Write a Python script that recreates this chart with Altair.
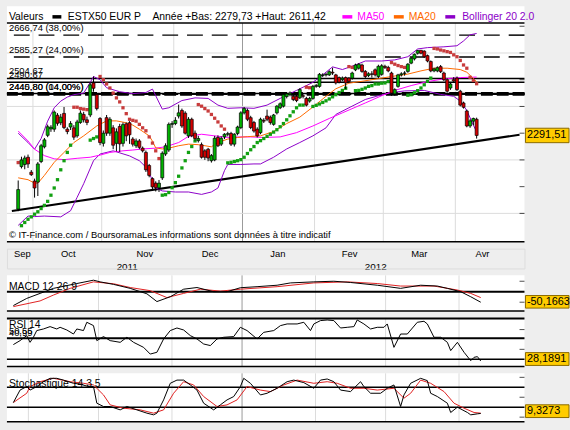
import altair as alt
import pandas as pd

FONT = "Liberation Sans"

# ---------------- candles (x = trading-session index, 0 = first session of Oct 2011) -------------
first_day = -5
first_2012 = 64
opens = [2016, 2175, 2183, 2210, 2154,
         2121, 2117, 2194, 2249, 2292, 2316, 2315, 2367, 2339, 2374,
         2315, 2323, 2320, 2290, 2340, 2370, 2350, 2368, 2488, 2444,
         2355, 2262, 2358, 2300, 2320, 2262, 2325, 2262, 2335, 2339,
         2278, 2253, 2271, 2244, 2228, 2179, 2130, 2113, 2096, 2133,
         2222, 2237, 2333, 2336, 2364, 2385, 2375, 2290, 2352, 2300,
         2272, 2257, 2234, 2240, 2197, 2200, 2284, 2259, 2286, 2296,
         2299, 2259, 2299, 2321, 2376, 2385, 2358, 2340, 2315, 2302,
         2348, 2364, 2360, 2333, 2376, 2395, 2401, 2437, 2444, 2438,
         2438, 2432, 2440, 2430, 2420, 2430, 2475, 2475, 2516, 2518,
         2518, 2528, 2518, 2508, 2500, 2508, 2506, 2506, 2537, 2543,
         2555, 2531, 2516, 2522, 2537, 2512, 2520, 2550, 2546, 2525,
         2447, 2475, 2518, 2524, 2531, 2562, 2578, 2599, 2610, 2607,
         2590, 2568, 2533, 2533, 2549, 2525, 2500, 2469, 2500, 2506,
         2457, 2413, 2383, 2327, 2345, 2352]
highs = [2123, 2212, 2216, 2220, 2162,
         2130, 2192, 2260, 2282, 2332, 2330, 2385, 2375, 2372, 2398,
         2322, 2345, 2330, 2350, 2385, 2380, 2362, 2490, 2512, 2450,
         2360, 2310, 2368, 2360, 2330, 2318, 2335, 2340, 2340, 2345,
         2285, 2280, 2278, 2250, 2235, 2185, 2135, 2120, 2125, 2232,
         2262, 2340, 2345, 2360, 2407, 2392, 2382, 2360, 2358, 2310,
         2290, 2265, 2240, 2245, 2222, 2290, 2292, 2288, 2300, 2305,
         2305, 2300, 2328, 2382, 2398, 2392, 2365, 2346, 2322, 2358,
         2356, 2388, 2366, 2372, 2405, 2415, 2448, 2452, 2456, 2446,
         2444, 2468, 2446, 2436, 2436, 2480, 2484, 2525, 2524, 2526,
         2535, 2545, 2522, 2512, 2512, 2512, 2510, 2530, 2560, 2562,
         2560, 2536, 2528, 2532, 2542, 2556, 2558, 2556, 2552, 2530,
         2468, 2522, 2528, 2532, 2562, 2584, 2598, 2611.42, 2611, 2610,
         2594, 2572, 2545, 2550, 2555, 2530, 2505, 2490, 2510, 2512,
         2462, 2418, 2388, 2352, 2358, 2358]
lows = [2008, 2168, 2165, 2170, 2140,
        2059, 2065, 2188, 2243, 2285, 2305, 2305, 2328, 2330, 2315,
        2296, 2312, 2275, 2283, 2335, 2340, 2330, 2360, 2455, 2385,
        2255, 2250, 2290, 2290, 2240, 2232, 2230, 2250, 2270, 2260,
        2250, 2245, 2240, 2228, 2155, 2135, 2085, 2082, 2080, 2125,
        2215, 2230, 2320, 2330, 2355, 2320, 2295, 2282, 2285, 2272,
        2265, 2205, 2200, 2195, 2190, 2195, 2248, 2252, 2278, 2288,
        2252, 2250, 2292, 2315, 2370, 2345, 2315, 2302, 2284, 2296,
        2338, 2345, 2332, 2328, 2370, 2390, 2396, 2430, 2438, 2420,
        2416, 2428, 2430, 2400, 2414, 2425, 2470, 2470, 2510, 2512,
        2514, 2518, 2482, 2486, 2494, 2465, 2488, 2500, 2532, 2538,
        2526, 2506, 2510, 2508, 2512, 2506, 2515, 2540, 2528, 2440,
        2440, 2470, 2512, 2515, 2526, 2558, 2572, 2594, 2595, 2582,
        2565, 2528, 2528, 2528, 2525, 2495, 2452, 2462, 2488, 2458,
        2400, 2392, 2322, 2320, 2330, 2279.73]
closes = [2089, 2200, 2207, 2185, 2145,
          2095, 2185, 2253, 2275, 2324, 2322, 2379, 2337, 2360, 2321,
          2306, 2336, 2285, 2342, 2375, 2350, 2340, 2481, 2468, 2392,
          2265, 2300, 2300, 2352, 2255, 2305, 2260, 2332, 2290, 2294,
          2259, 2271, 2247, 2234, 2163, 2142, 2099, 2096, 2113, 2225,
          2253, 2333, 2336, 2348, 2376, 2327, 2300, 2352, 2290, 2280,
          2280, 2210, 2210, 2207, 2216, 2281, 2253, 2281, 2296, 2298,
          2259, 2296, 2323, 2376, 2392, 2352, 2321, 2308, 2290, 2352,
          2345, 2352, 2340, 2368, 2401, 2410, 2444, 2447, 2450, 2426,
          2422, 2463, 2438, 2405, 2430, 2475, 2478, 2520, 2518, 2520,
          2530, 2525, 2488, 2491, 2506, 2488, 2494, 2525, 2555, 2558,
          2531, 2512, 2522, 2520, 2518, 2550, 2552, 2546, 2533, 2450,
          2463, 2518, 2522, 2525, 2558, 2580, 2595, 2609, 2599, 2586,
          2570, 2533, 2540, 2545, 2530, 2500, 2457, 2484, 2495, 2463,
          2405, 2397, 2327, 2346, 2355, 2291.51]

# ---------------- parabolic SAR dots ----------------
sar_up_i = (list(range(-4, 12)) + [17, 18, 19] + list(range(39, 50)) + list(range(59, 83))
            + list(range(85, 96)) + list(range(98, 109)) + list(range(114, 122)))
sar_up_v = [1954, 1966, 1978, 1987, 1997, 2006, 2018, 2030, 2045, 2068, 2095, 2126, 2163, 2197, 2228, 2255,
            2274, 2280, 2286,
            2068, 2070, 2078, 2096, 2115, 2139, 2170, 2197, 2228, 2250, 2271,
            2189, 2191, 2194, 2197, 2201, 2210, 2224, 2238, 2250, 2265, 2272, 2280, 2288, 2296, 2304, 2313,
            2324, 2336, 2350, 2365, 2380, 2395, 2405, 2405,
            2400, 2404, 2409, 2415, 2421, 2428, 2436, 2444, 2452, 2460, 2468,
            2459, 2460, 2464, 2469, 2475, 2478, 2484, 2484, 2487, 2488, 2493,
            2442, 2444, 2451, 2459, 2469, 2481, 2494, 2506]
sar_dn_i = ([-5] + list(range(12, 17)) + list(range(20, 39)) + list(range(50, 59)) + [83, 84, 96, 97]
            + list(range(109, 114)) + list(range(122, 136)))
sar_dn_v = [2190,
            2397, 2397, 2392, 2390, 2388,
            2512, 2500, 2484, 2469, 2450, 2432, 2417, 2395, 2373, 2352, 2348, 2345, 2333, 2320, 2309,
            2286, 2263, 2234, 2205,
            2407, 2401, 2392, 2383, 2370, 2356, 2342, 2327, 2315,
            2472, 2470, 2549, 2546,
            2564, 2558, 2553, 2549, 2546,
            2617, 2615, 2611, 2608, 2605, 2602, 2593, 2586, 2572, 2555, 2543, 2509, 2497, 2485]

# ---------------- moving averages & Bollinger (read at sample points) ----------------
ma20_i = [-5, -2, 0, 1, 3, 6, 9, 12, 15, 19, 22, 25, 28, 30, 32, 35, 36, 37, 39, 41,
          44, 47, 50, 54, 56, 59, 62, 65, 69, 73, 77, 81, 85, 89, 92, 96, 100, 105, 109, 114,
          118, 122, 126, 130, 132, 134, 135]
ma20_v = [2133, 2126, 2113, 2113, 2142, 2191, 2228, 2265, 2290, 2327, 2346, 2346, 2339, 2330, 2315, 2290, 2270, 2245, 2241, 2244,
          2253, 2259, 2257, 2249, 2265, 2278, 2284, 2287, 2290, 2306, 2336, 2360, 2398, 2438, 2466, 2487, 2494, 2504, 2512, 2521,
          2533, 2543, 2543, 2538, 2528, 2505, 2492]
ma50_i = [-5, -2, 0, 3, 6, 9, 13, 17, 20, 23, 27, 30, 33, 37, 40, 44, 47, 51, 55, 59,
          63, 66, 70, 75, 80, 85, 90, 94, 101, 106, 110, 115, 120, 125, 130, 135]
ma50_v = [2308, 2271, 2240, 2216, 2204, 2201, 2206, 2210, 2218, 2228, 2234, 2237, 2241, 2244, 2249, 2265, 2288, 2296, 2290, 2284,
          2286, 2286, 2284, 2286, 2302, 2327, 2355, 2376, 2413, 2440, 2460, 2478, 2493, 2503, 2508, 2510]
boll_up_i = [-5, -2, 0, 2, 4, 6, 8, 10, 12, 15, 17, 18, 20, 22, 26, 30, 34, 36, 37, 39,
             41, 45, 49, 53, 56, 59, 63, 67, 71, 75, 80, 85, 88, 91, 94, 98, 101, 106, 110, 114,
             117, 120, 125, 129, 131, 133, 135]
boll_up_v = [2300, 2265, 2240, 2280, 2345, 2395, 2420, 2435, 2444, 2450, 2490, 2512, 2500, 2470, 2455, 2448, 2452, 2465, 2440, 2390,
             2395, 2422, 2432, 2430, 2405, 2393, 2395, 2393, 2405, 2430, 2460, 2490, 2518, 2548, 2538, 2555, 2570, 2570, 2574, 2586,
             2615, 2620, 2623, 2627, 2645, 2668, 2673]
boll_lo_i = [-5, -2, 0, 3, 8, 11, 13, 15, 18, 20, 24, 29, 32, 34, 36, 37, 39, 43, 47, 51,
             54, 56, 58, 59, 63, 67, 69, 73, 77, 81, 85, 89, 92, 96, 101, 105, 109, 113, 119, 124,
             128, 130, 132, 134, 135]
boll_lo_v = [1955, 1990, 1988, 1990, 1987, 2010, 2060, 2111, 2197, 2222, 2234, 2215, 2197, 2173, 2125, 2095, 2084, 2080, 2080, 2071,
             2080, 2095, 2160, 2183, 2183, 2185, 2185, 2210, 2241, 2265, 2290, 2320, 2370, 2395, 2426, 2440, 2452, 2458, 2460, 2445,
             2438, 2420, 2385, 2330, 2305]

# ---------------- horizontal levels & trend line ----------------
level_values = [2666.74, 2585.27, 2504.67, 2490.67, 2445.80, 2448.50]
level_labels = ["2666,74 (38,00%)", "2585,27 (24,00%)", "2504,67", "2490,67",
                "2445,80 (04,00%)", "2440,80 (14,00%)"]
level_dashed = [True, True, False, False, True, False]
trend_i = [-6.93, 148.1]
trend_v = [2009, 2294]

# ---------------- indicators ----------------
macd_i = [-5, -1, 3, 7, 14, 19, 21, 25, 30, 35, 38, 42, 46, 50, 55, 59, 63, 68, 74, 78,
          85, 91, 96, 104, 111, 117, 122, 125, 129, 132, 135]
macd_v = [-66, -32, -8, 16, 39, 55, 47, 35, 16, -10, -47, -24, 12, 20, 0, 0, 19, 24, 31, 42,
          47, 50, 44, 31, 16, 31, 27, 16, 0, -24, -50.1663]
sig_i = [-5, 3, 7, 12, 19, 25, 30, 36, 41, 46, 51, 57, 63, 74, 85, 95, 104, 111, 121, 128, 132, 135]
sig_v = [-71, -44, -16, 16, 47, 38, 20, 5, -28, -8, 12, 3, 12, 24, 42, 47, 39, 27, 27, 8, -8, -28]

rsi_i = [-5, -3, -1, 0, 1, 2, 4, 6, 8, 9, 11, 13, 14, 16, 17, 19, 20, 22, 24, 27,
         29, 31, 34, 36, 38, 40, 42, 44, 46, 48, 50, 52, 54, 56, 58, 61, 63, 65, 68, 70,
         73, 75, 77, 80, 82, 84, 85, 87, 89, 91, 93, 95, 97, 98, 100, 102, 104, 106, 107, 109,
         111, 113, 116, 118, 119, 121, 123, 125, 126, 128, 130, 132, 133, 134, 135]
rsi_v = [44.8, 48.8, 53.9, 47.1, 52.2, 59, 60.6, 63, 60.6, 62.3, 59.6, 55.5, 60.6, 59, 67.4, 64, 48.8, 52.9, 48.8, 47.1,
         52.2, 47.1, 42, 35.2, 37, 50.5, 59, 61.6, 59.6, 53.9, 50.5, 45.4, 43.8, 50.5, 52.2, 52.9, 62.3, 59, 50.5, 57.2,
         59, 64, 65.7, 65.7, 67.4, 59, 65.7, 69.1, 69.7, 69.1, 61.6, 62.3, 63, 69.7, 65.7, 60.6, 62.3, 62.3, 65.7, 42,
         55.5, 55.5, 67.4, 68.4, 65.7, 52.2, 52.2, 47.1, 38.7, 47.1, 37, 28.5, 31.9, 32.6, 28.1891]

sk_i = [-5, -3, -1, 0, 2, 4, 6, 8, 10, 13, 15, 17, 19, 20, 22, 24, 27, 29, 32, 35,
        37, 38, 40, 42, 44, 46, 48, 50, 52, 55, 57, 59, 61, 63, 64, 66, 69, 71, 74, 77,
        79, 82, 85, 87, 89, 91, 93, 96, 97, 99, 100, 102, 105, 107, 109, 111, 112, 114, 117, 119,
        120, 122, 125, 126, 128, 131, 132, 134, 135]
sk_v = [36.7, 68, 76.7, 68, 76.7, 89, 97.5, 97.5, 93, 85, 83, 78, 76.7, 35, 26.7, 26.7, 18.3, 26.7, 18.3, 10,
        5.8, 10, 43.3, 85, 93, 93, 80.8, 68, 35, 18.3, 30.8, 43.3, 51.7, 76.7, 97.5, 85, 55.8, 60, 72.5, 89,
        93, 86.7, 72.5, 93, 95.8, 89, 68, 64.2, 72.5, 89, 76.7, 60, 60, 72.5, 80.8, 26.7, 55.8, 85, 97.5, 91.7,
        60, 51.7, 35, 11.7, 25, 11.7, 5.8, 8.3, 9.3273]
sd_i = [-5, -1, 0, 3, 7, 12, 16, 19, 22, 24, 28, 33, 37, 40, 43, 46, 49, 52, 56, 59,
        62, 65, 69, 72, 76, 80, 85, 89, 92, 96, 100, 104, 109, 112, 114, 117, 120, 124, 127, 130,
        133, 135]
sd_v = [36.7, 60, 76.7, 89, 97.5, 89, 85, 80.8, 55.8, 30.8, 22.5, 18.3, 10, 18.3, 60, 89, 80.8, 51.7, 26.7, 30.8,
        43.3, 76.7, 68, 64.2, 80.8, 93, 85, 89, 85, 72.5, 72.5, 68, 72.5, 47.5, 60, 93, 85, 64.2, 35, 22.5,
        11.7, 10]

# ---------------- calendar ----------------
month_bounds = [-0.5, 20.5, 42.5, 63.5, 85.5, 106.5, 128.5]
year_bound = 63.5
month_names = ["Sep", "Oct", "Nov", "Dec", "Jan", "Fev", "Mar", "Avr"]
month_label_i = [-3.7, 10.3, 33.7, 53.6, 74.3, 96.2, 117.5, 136.8]
year_names = ["2011", "2012"]
year_label_i = [28.3, 104.2]

# ---------------- styling / layout ----------------
W = 523
H_MAIN, H_GAP, H_MACD, H_RSI, H_STO = 221, 20, 36, 49, 49
GREEN, RED = "#00b400", "#d40000"
SAR_G, SAR_R = "#12a012", "#c83c3c"
PURPLE, MAGENTA, ORANGE = "#8c00c8", "#ff00ff", "#ff6a00"
GRID, GRID_DARK = "#dcdcdc", "#9a9a9a"
BOX = "#ffcc00"
ONE = pd.DataFrame({"k": [0]})

xsc = alt.Scale(domain=[-6.93, 148.1], nice=False, zero=False)


def X(field="i"):
    return alt.X(f"{field}:Q", scale=xsc, axis=None)


def right_axis(values, shown, size=10.5):
    test = " || ".join(f"datum.value == {v}" for v in shown) or "false"
    return alt.Axis(orient="right", values=values, labelExpr=f"({test}) ? datum.label : ''",
                    format="d", ticks=False, domain=True, domainColor="black", domainWidth=1,
                    labelFontSize=size, labelFont=FONT, labelColor="black", labelPadding=3,
                    labelFlush=False, labelOverlap=False, grid=False, title=None)


def vgrid():
    df = pd.DataFrame({"i": month_bounds,
                       "col": [GRID_DARK if b == year_bound else GRID for b in month_bounds]})
    return alt.Chart(df).mark_rule(strokeWidth=1).encode(
        x=X(), color=alt.Color("col:N", scale=None))


def hrules(values, ysc, width=1.5, color="black", axis=None):
    df = pd.DataFrame({"v": values})
    return alt.Chart(df).mark_rule(color=color, strokeWidth=width).encode(
        y=alt.Y("v:Q", scale=ysc, axis=axis))


def series(i_list, v_list, color, ysc, width=1.0):
    df = pd.DataFrame({"i": i_list, "v": v_list})
    return alt.Chart(df).mark_line(color=color, strokeWidth=width).encode(
        x=X(), y=alt.Y("v:Q", scale=ysc, axis=None))


def inner_ticks(values, ysc):
    df = pd.DataFrame({"v": values})
    return alt.Chart(df).mark_tick(color="black", thickness=1, size=5).encode(
        x=alt.value(W - 2.5), y=alt.Y("v:Q", scale=ysc, axis=None))


def text_px(txt, x, y, size=10.5, color="black"):
    return alt.Chart(ONE).mark_text(text=txt, align="left", baseline="middle", fontSize=size,
                                    font=FONT, color=color).encode(x=alt.value(x), y=alt.value(y))


def rect_px(x1, x2, y1, y2, fill):
    return alt.Chart(ONE).mark_rect(fill=fill).encode(
        x=alt.value(x1), x2=alt.value(x2), y=alt.value(y1), y2=alt.value(y2))


def value_box(value, center, half, ysc, label):
    df = pd.DataFrame({"v": [center], "lo": [center - half], "hi": [center + half], "t": [label]})
    box = alt.Chart(df).mark_rect(fill=BOX, stroke="#8a6a00", strokeWidth=1).encode(
        x=alt.value(W + 1), x2=alt.value(W + 45),
        y=alt.Y("lo:Q", scale=ysc, axis=None), y2="hi:Q")
    txt = alt.Chart(df).mark_text(align="left", baseline="middle", fontSize=11, font=FONT,
                                  color="black").encode(
        x=alt.value(W + 2.5), y=alt.Y("v:Q", scale=ysc, axis=None), text="t:N")
    return [box, txt]


def fr(v, d):
    return f"{v:.{d}f}".replace(".", ",")


# ================= main price panel =================
ysc = alt.Scale(domain=[1894, 2712], nice=False, zero=False)
main_axis = right_axis(list(range(2000, 2800, 100)), [2000, 2200, 2400, 2600])

cd = pd.DataFrame({"i": list(range(first_day, first_day + len(closes))),
                   "o": opens, "h": highs, "l": lows, "c": closes})
lv = pd.DataFrame({"v": level_values, "t": level_labels, "d": level_dashed})

bound_ticks = alt.Chart(pd.DataFrame({"i": month_bounds})).mark_rule(opacity=0).encode(
    x=alt.X("i:Q", scale=xsc, axis=alt.Axis(values=month_bounds, labels=False, domain=False,
                                            ticks=True, tickSize=4, tickColor="black",
                                            grid=False, title=None, orient="bottom")))

year_low = min(lows[first_2012 - first_day:])
year_high = max(highs[first_2012 - first_day:])

main_layers = [
    rect_px(0, W, -17, 0, "white"),
    vgrid(),
    bound_ticks,
    hrules([2000, 2200, 2400, 2600], ysc, width=1, color=GRID, axis=main_axis),
    alt.Chart(lv).transform_filter("datum.d").mark_rule(
        color="black", strokeWidth=1.5, strokeDash=[16, 9]).encode(y=alt.Y("v:Q", scale=ysc, axis=None)),
    alt.Chart(lv).transform_filter("!datum.d").mark_rule(
        color="black", strokeWidth=1.5).encode(y=alt.Y("v:Q", scale=ysc, axis=None)),
    alt.Chart(lv).transform_filter("datum.v < 2450").mark_rule(
        color="black", strokeWidth=3, strokeDash=[12, 4]).encode(y=alt.Y("v:Q", scale=ysc, axis=None)),
    alt.Chart(lv).mark_text(align="left", baseline="bottom", dy=-2, fontSize=9.5, font=FONT,
                            color="black").encode(
        x=alt.value(2), y=alt.Y("v:Q", scale=ysc, axis=None), text="t:N"),
    series(trend_i, trend_v, "black", ysc, width=2.2),
    series(boll_up_i, boll_up_v, PURPLE, ysc),
    series(boll_lo_i, boll_lo_v, PURPLE, ysc),
    series(ma50_i, ma50_v, MAGENTA, ysc),
    series(ma20_i, ma20_v, ORANGE, ysc),
    alt.Chart(pd.DataFrame({"i": sar_up_i, "v": sar_up_v})).mark_square(
        size=11, color=SAR_G, opacity=1).encode(x=X(), y=alt.Y("v:Q", scale=ysc, axis=None)),
    alt.Chart(pd.DataFrame({"i": sar_dn_i, "v": sar_dn_v})).mark_square(
        size=11, color=SAR_R, opacity=1).encode(x=X(), y=alt.Y("v:Q", scale=ysc, axis=None)),
    alt.Chart(cd).mark_rule(color="black", strokeWidth=1).encode(
        x=X(), y=alt.Y("l:Q", scale=ysc, axis=None), y2="h:Q"),
    alt.Chart(cd).mark_bar(size=3, stroke="black", strokeWidth=0.7).encode(
        x=X(), y=alt.Y("o:Q", scale=ysc, axis=None), y2="c:Q",
        color=alt.condition("datum.c >= datum.o", alt.value(GREEN), alt.value(RED))),
    hrules([1894, 2712], ysc, width=1.5),
    inner_ticks(list(range(2000, 2800, 100)), ysc),
    text_px("© IT-Finance.com / BoursoramaLes informations sont données à titre indicatif", 2, 214, size=9.5),
    alt.Chart(pd.DataFrame({"i": month_label_i, "t": month_names})).mark_text(
        baseline="middle", fontSize=9.5, font=FONT, color="black").encode(
        x=X(), y=alt.value(H_MAIN + 12), text="t:N"),
    alt.Chart(pd.DataFrame({"i": year_label_i, "t": year_names})).mark_text(
        baseline="middle", fontSize=10, font=FONT, color="black").encode(
        x=X(), y=alt.value(H_MAIN + 26), text="t:N"),
    # header line
    text_px("Valeurs", 2, -6),
    rect_px(46, 55, -8, -4.5, "black"),
    text_px("ESTX50 EUR P", 61.5, -6),
    text_px("Année +Bas: " + fr(year_low, 2) + " +Haut: " + fr(year_high, 2), 147, -6),
    rect_px(339, 349, -8, -4.5, MAGENTA),
    text_px("MA50", 354, -6, color=MAGENTA),
    rect_px(391, 401, -8, -4.5, ORANGE),
    text_px("MA20", 406, -6, color=ORANGE),
    rect_px(443, 453, -8, -4.5, PURPLE),
    text_px("Bollinger 20 2.0", 460, -6, color=PURPLE),
] + value_box(closes[-1], closes[-1], 27, ysc, fr(closes[-1], 2))

main = alt.layer(*main_layers).properties(
    width=W, height=H_MAIN, view=alt.ViewBackground(fill="white", stroke=None))

spacer = alt.Chart(ONE).mark_point(opacity=0).encode(
    x=alt.value(0), y=alt.value(0)).properties(width=W, height=H_GAP)

# ================= MACD =================
ysc_m = alt.Scale(domain=[-92, 78], nice=False, zero=False)
macd = alt.layer(
    vgrid(),
    hrules([0], ysc_m, width=2, axis=right_axis([0], [0])),
    hrules([-92], ysc_m, width=1.5),
    inner_ticks([-50, 50], ysc_m),
    series(sig_i, sig_v, "#e02020", ysc_m),
    series(macd_i, macd_v, "black", ysc_m),
    text_px("MACD 12 26 9", 2, 12),
    *value_box(macd_v[-1], macd_v[-1] + 2, 30, ysc_m, fr(macd_v[-1], 4)),
).properties(width=W, height=H_MACD, view=alt.ViewBackground(fill="white", stroke=None))

# ================= RSI =================
ysc_r = alt.Scale(domain=[22.7, 71.8], nice=False, zero=False)
rsi = alt.layer(
    vgrid(),
    hrules([71.3, 51.2], ysc_r, width=2, axis=right_axis([60], [60])),
    hrules([30, 22.7], ysc_r, width=1.5),
    inner_ticks([40, 60], ysc_r),
    series(rsi_i, rsi_v, "black", ysc_r),
    text_px("RSI 14", 2, 7),
    text_px("50,55", 2, 13, size=9.5),
    text_px("40,99", 2, 15, size=9.5),
    *value_box(rsi_v[-1], rsi_v[-1] + 2, 6.5, ysc_r, fr(rsi_v[-1], 4)),
).properties(width=W, height=H_RSI, view=alt.ViewBackground(fill="white", stroke=None))

# ================= Stochastic =================
ysc_s = alt.Scale(domain=[-11.75, 110], nice=False, zero=False)
stoch = alt.layer(
    vgrid(),
    hrules([75, 25], ysc_s, width=1.5, axis=right_axis([0, 50, 100], [0, 50, 100])),
    hrules([-11.75], ysc_s, width=1.5),
    inner_ticks([0, 50, 100], ysc_s),
    series(sd_i, sd_v, "#e02020", ysc_s),
    series(sk_i, sk_v, "black", ysc_s),
    text_px("Stochastique 14 3 5", 2, 11),
    *value_box(sk_v[-1], 15, 16, ysc_s, fr(sk_v[-1], 4)),
).properties(width=W, height=H_STO, view=alt.ViewBackground(fill="white", stroke=None))

chart = alt.vconcat(main, spacer, macd, rsi, stoch, spacing=7, bounds="flush").properties(
    background="#eeeeee",
    padding={"left": 3, "top": 4, "right": 0, "bottom": 6},
).configure_view(stroke=None).configure(font=FONT)

chart.save("out.html", embed_options={"renderer": "svg", "actions": False})
